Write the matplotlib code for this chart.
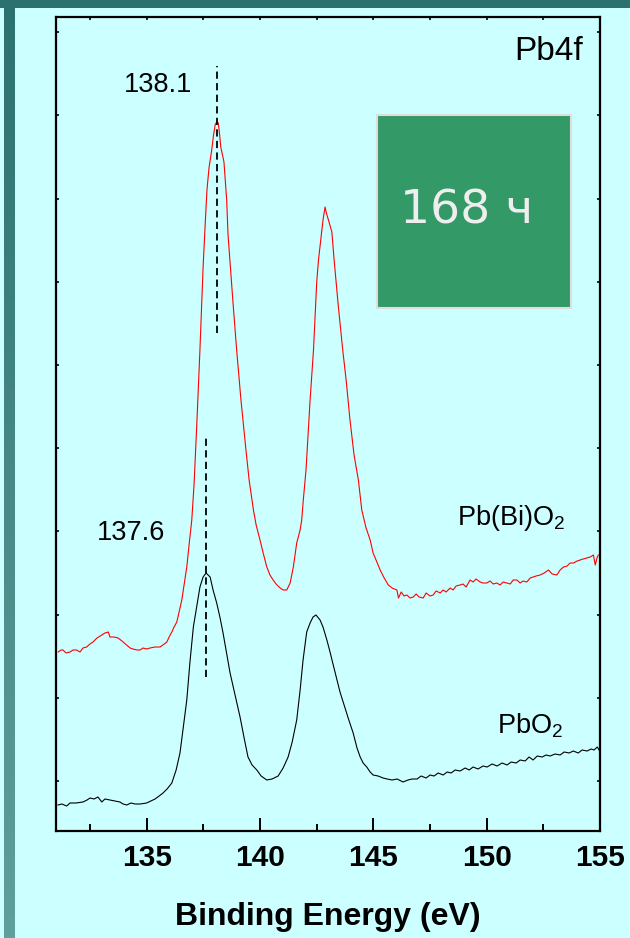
import numpy as np
import matplotlib.pyplot as plt
from matplotlib.patches import Rectangle
from matplotlib.colors import LinearSegmentedColormap
from matplotlib.ticker import MultipleLocator, FixedLocator, NullFormatter

# ── spectra (binding energy in eV, intensity in arbitrary units) ─────────────

pbo2_be = [131.09, 131.26, 131.47, 131.62, 131.88, 132.19, 132.37, 132.50, 132.68, 132.85,
           133.02, 133.16, 133.38, 133.60, 133.82, 133.96, 134.12, 134.31, 134.49, 134.71,
           135.00, 135.19, 135.37, 135.55, 135.72, 135.90, 136.11, 136.30, 136.47, 136.60,
           136.77, 136.91, 137.06, 137.22, 137.35, 137.49, 137.62, 137.80, 137.93, 138.09,
           138.24, 138.37, 138.50, 138.68, 138.90, 139.12, 139.30, 139.47, 139.65, 139.86,
           140.05, 140.30, 140.53, 140.80, 141.02, 141.24, 141.42, 141.62, 141.77, 141.90,
           142.06, 142.21, 142.34, 142.47, 142.65, 142.78, 142.95, 143.09, 143.22, 143.40,
           143.53, 143.67, 143.89, 144.11, 144.28, 144.42, 144.55, 144.71, 144.86, 144.99,
           145.21, 145.43, 145.61, 145.83, 146.05, 146.31, 146.53, 146.71, 146.93, 147.11,
           147.33, 147.50, 147.68, 147.86, 148.08, 148.26, 148.43, 148.61, 148.83, 149.05,
           149.23, 149.40, 149.62, 149.84, 150.02, 150.24, 150.46, 150.68, 150.90, 151.08,
           151.30, 151.48, 151.70, 151.87, 152.05, 152.23, 152.45, 152.62, 152.80, 153.02,
           153.24, 153.42, 153.64, 153.82, 154.04, 154.21, 154.43, 154.61, 154.74, 154.88,
           154.96]
pbo2_int = [26, 27, 25, 28, 28, 29, 31, 33, 32, 34,
            29, 32, 31, 30, 29, 27, 26, 28, 27, 27,
            28, 30, 32, 35, 38, 42, 48, 61, 78, 101,
            131, 169, 204, 226, 244, 254, 258, 254, 241, 228,
            213, 198, 181, 158, 136, 114, 93, 74, 66, 61,
            55, 51, 52, 55, 63, 74, 89, 111, 141, 171,
            199, 208, 214, 216, 211, 204, 191, 179, 167, 151,
            139, 129, 113, 98, 83, 74, 68, 64, 59, 56,
            55, 53, 52, 51, 52, 49, 51, 52, 52, 55,
            53, 56, 55, 58, 56, 59, 58, 61, 60, 63,
            61, 64, 62, 65, 64, 67, 65, 68, 66, 69,
            68, 71, 70, 74, 71, 75, 74, 76, 75, 77,
            76, 79, 78, 80, 78, 81, 80, 82, 81, 84,
            81]

pbbio2_be = [131.10, 131.22, 131.31, 131.44, 131.62, 131.75, 131.91, 132.06, 132.19, 132.35,
             132.50, 132.63, 132.81, 133.02, 133.16, 133.31, 133.38, 133.56, 133.74, 133.91,
             134.12, 134.27, 134.40, 134.57, 134.71, 134.84, 135.00, 135.15, 135.37, 135.59,
             135.72, 135.89, 135.99, 136.11, 136.21, 136.33, 136.43, 136.55, 136.65, 136.77,
             136.87, 136.99, 137.09, 137.22, 137.35, 137.49, 137.58, 137.66, 137.75, 137.87,
             137.95, 138.03, 138.11, 138.16, 138.22, 138.27, 138.41, 138.53, 138.59, 138.68,
             138.81, 138.97, 139.16, 139.38, 139.52, 139.71, 139.83, 140.00, 140.14, 140.30,
             140.44, 140.58, 140.71, 140.89, 141.02, 141.18, 141.33, 141.47, 141.62, 141.77,
             141.84, 141.91, 142.03, 142.21, 142.36, 142.50, 142.58, 142.68, 142.78, 142.87,
             142.94, 143.02, 143.17, 143.27, 143.36, 143.45, 143.53, 143.65, 143.80, 143.97,
             144.15, 144.34, 144.49, 144.68, 144.86, 144.99, 145.12, 145.30, 145.48, 145.66,
             145.83, 146.04, 146.11, 146.23, 146.36, 146.48, 146.62, 146.76, 146.89, 147.02,
             147.20, 147.33, 147.50, 147.64, 147.77, 147.95, 148.08, 148.21, 148.39, 148.52,
             148.65, 148.83, 148.96, 149.09, 149.27, 149.40, 149.53, 149.71, 149.84, 150.01,
             150.15, 150.29, 150.45, 150.59, 150.73, 150.89, 151.04, 151.17, 151.33, 151.48,
             151.61, 151.77, 151.92, 152.05, 152.18, 152.36, 152.54, 152.73, 152.89, 153.10,
             153.24, 153.39, 153.55, 153.68, 153.83, 153.99, 154.12, 154.26, 154.42, 154.57,
             154.71, 154.79, 154.88, 154.93]
pbbio2_int = [179, 181, 181, 178, 179, 181, 181, 179, 183, 184,
              187, 189, 193, 196, 198, 199, 194, 194, 193, 190,
              186, 183, 182, 181, 181, 183, 182, 183, 184, 184,
              186, 189, 194, 199, 204, 209, 219, 231, 246, 264,
              286, 311, 346, 411, 481, 564, 606, 641, 663, 681,
              696, 707, 709, 708, 696, 684, 669, 631, 596, 568,
              528, 481, 431, 381, 351, 321, 306, 291, 278, 264,
              256, 251, 247, 243, 241, 241, 248, 264, 288, 301,
              311, 331, 361, 431, 481, 548, 571, 591, 611, 624,
              617, 611, 599, 571, 548, 526, 508, 481, 451, 411,
              376, 351, 321, 303, 291, 278, 271, 261, 253, 246,
              243, 241, 233, 239, 235, 236, 233, 234, 237, 234,
              233, 238, 235, 236, 240, 238, 241, 239, 243, 241,
              245, 246, 247, 244, 251, 249, 252, 249, 248, 248,
              250, 247, 248, 246, 249, 248, 247, 251, 251, 248,
              250, 249, 253, 254, 255, 256, 258, 261, 257, 256,
              261, 264, 265, 268, 268, 270, 271, 272, 273, 274,
              276, 266, 274, 276]

# peak positions marked with dashed lines: (energy, y from, y to)
pbo2_peak = 137.6
pbo2_mark = (154, 394)
pbbio2_peak = 138.1
pbbio2_mark = (498, 765)

# ── styling ──────────────────────────────────────────────────────────────────

BG = "#ccffff"
TEAL_DARK = "#2b716f"
TEAL_LIGHT = "#60a09c"

plt.rcParams["font.family"] = ["Liberation Sans", "DejaVu Sans"]
plt.rcParams["mathtext.fontset"] = "custom"
plt.rcParams["mathtext.rm"] = "Liberation Sans"

W, H = 630, 938
fig = plt.figure(figsize=(W / 100, H / 100), dpi=100, facecolor=BG)

# slide frame: gradient bar on the left, solid bar on top
band = fig.add_axes([4 / W, 0, 11 / W, 1])
band.imshow(np.linspace(0, 1, 256).reshape(-1, 1), aspect="auto",
            cmap=LinearSegmentedColormap.from_list("band", [TEAL_DARK, TEAL_LIGHT]))
band.set_axis_off()
fig.add_artist(Rectangle((0, 1 - 8 / H), 1, 8 / H, transform=fig.transFigure,
                         facecolor=TEAL_DARK, edgecolor="none", zorder=5))

ax = fig.add_axes([56 / W, 1 - 831 / H, 544 / W, 814 / H])
ax.set_facecolor(BG)

ax.plot(pbbio2_be, pbbio2_int, color="red", linewidth=0.8)
ax.plot(pbo2_be, pbo2_int, color="black", linewidth=0.8)

ax.vlines(pbbio2_peak, *pbbio2_mark, colors="black", linewidth=1.3,
          linestyles=(0, (4, 2.4)))
ax.vlines(pbo2_peak, *pbo2_mark, colors="black", linewidth=1.3,
          linestyles=(0, (4, 2.4)))

ax.text(135.5, 746, f"{pbbio2_peak:.1f}", fontsize=19.5, ha="center", va="center")
ax.text(134.31, 298, f"{pbo2_peak:.1f}", fontsize=19.5, ha="center", va="center")
ax.text(154.26, 780, "Pb4f", fontsize=24, ha="right", va="center")
ax.text(148.70, 306, r"Pb(Bi)O$_\mathregular{2}$", fontsize=19.5, ha="left", va="baseline")
ax.text(150.46, 98, r"PbO$_\mathregular{2}$", fontsize=19.5, ha="left", va="baseline")

ax.set_xlim(131, 155)
ax.set_ylim(0, 814)

ax.xaxis.set_major_locator(MultipleLocator(5))
ax.xaxis.set_minor_locator(MultipleLocator(2.5))
ax.yaxis.set_major_locator(FixedLocator([50 + 83.2 * k for k in range(10)]))
ax.yaxis.set_major_formatter(NullFormatter())

ax.tick_params(axis="x", which="major", direction="in", length=9.5, width=1.4,
               pad=9, labelsize=21.5)
ax.tick_params(axis="x", which="minor", direction="in", length=5, width=1.4)
ax.tick_params(axis="y", which="major", direction="in", length=2.5, width=1.2,
               left=True, right=True)
for lbl in ax.get_xticklabels():
    lbl.set_fontweight("bold")

top = ax.secondary_xaxis("top")
top.set_xticks([132.5 + 2.5 * k for k in range(9)])
top.tick_params(direction="in", length=2.5, width=1.2, labeltop=False)
top.spines["top"].set_linewidth(1.4)

for side in ("left", "bottom", "right", "top"):
    ax.spines[side].set_linewidth(1.6)

ax.set_xlabel("Binding Energy (eV)", fontsize=23, fontweight="bold", labelpad=22)

# time stamp plate
fig.add_artist(Rectangle((377 / W, 1 - 308 / H), 194 / W, 193 / H,
                         transform=fig.transFigure, facecolor="#339966",
                         edgecolor="#dedede", linewidth=1.5, zorder=6))
fig.text(467 / W, 1 - 211 / H, "168 ч", fontsize=34, color="#eeeeee",
         family="DejaVu Sans", ha="center", va="center", zorder=7)

fig.savefig("out.png", dpi=100, facecolor=BG)
